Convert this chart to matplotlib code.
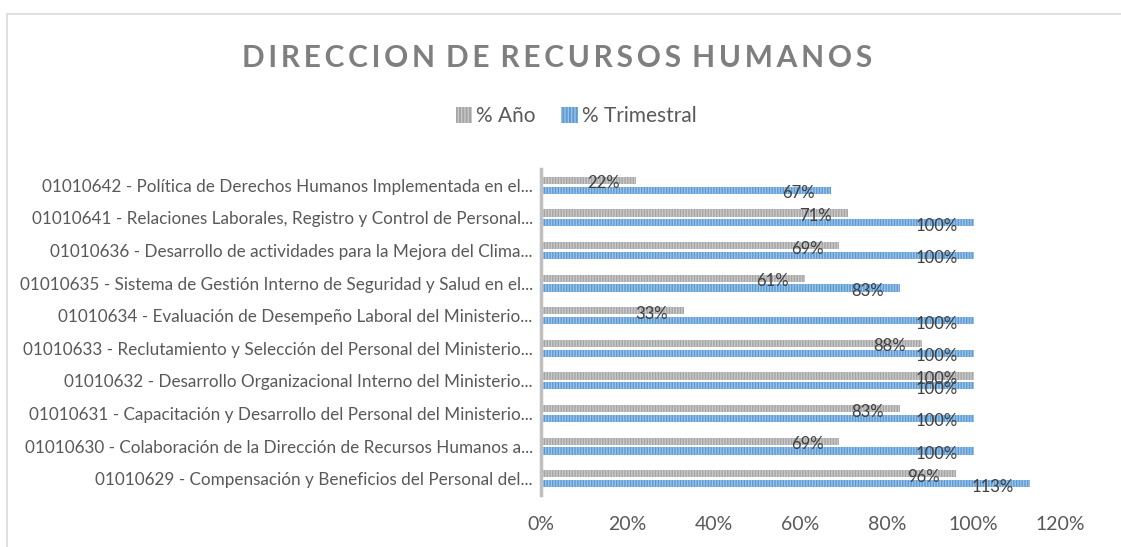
import numpy as np
import matplotlib.pyplot as plt
from matplotlib.patches import Patch, Rectangle
from matplotlib.ticker import FuncFormatter
import matplotlib.transforms as mtransforms

plt.rcParams['font.family'] = ['Lato', 'DejaVu Sans']
plt.rcParams['hatch.linewidth'] = 1.0

# ==========================================
# Data
# ==========================================
categories = [
    "01010642 - Política de Derechos Humanos Implementada en el...",
    "01010641 - Relaciones Laborales, Registro y Control de Personal...",
    "01010636 - Desarrollo de actividades para la Mejora del Clima...",
    "01010635 - Sistema de Gestión Interno de Seguridad y Salud en el...",
    "01010634 - Evaluación de Desempeño Laboral del Ministerio...",
    "01010633 - Reclutamiento y Selección del Personal del Ministerio...",
    "01010632 - Desarrollo Organizacional Interno del Ministerio...",
    "01010631 - Capacitación y Desarrollo del Personal del Ministerio...",
    "01010630 - Colaboración de la Dirección de Recursos Humanos a...",
    "01010629 - Compensación y Beneficios del Personal del...",
]
pct_anio = [0.22, 0.71, 0.69, 0.61, 0.33, 0.88, 1.00, 0.83, 0.69, 0.96]
pct_trimestral = [0.67, 1.00, 1.00, 0.83, 1.00, 1.00, 1.00, 1.00, 1.00, 1.13]
xticks = [0, 0.2, 0.4, 0.6, 0.8, 1.0, 1.2]

GRAY = "#a5a5a5"
GRAY_HATCH = "#c9c9c9"
BLUE = "#5b9bd5"
BLUE_HATCH = "#9cc3e6"
TEXT = "#595959"

# ==========================================
# Figure
# ==========================================
fig = plt.figure(figsize=(11.21, 5.47), dpi=100)
ax = fig.add_axes([541 / 1121, 1 - 495 / 547, 519 / 1121, 326 / 547])

y = np.arange(len(categories))
h = 0.22
off = 0.15
ax.barh(y - off, pct_anio, height=h, color=GRAY, edgecolor=GRAY_HATCH,
        linewidth=0, hatch="||||||")
ax.barh(y + off, pct_trimestral, height=h, color=BLUE, edgecolor=BLUE_HATCH,
        linewidth=0, hatch="||||||")

# data labels near bar ends
lab_off = mtransforms.offset_copy(ax.transData, fig=fig, x=-16, y=-3, units="dots")
for i in range(len(categories)):
    ax.text(pct_anio[i], y[i] - off, f"{pct_anio[i]:.0%}", transform=lab_off,
            ha="right", va="center", fontsize=12, color="#404040")
    ax.text(pct_trimestral[i], y[i] + off, f"{pct_trimestral[i]:.0%}", transform=lab_off,
            ha="right", va="center", fontsize=12, color="#404040")

ax.set_ylim(len(categories) - 0.5, -0.5)
ax.set_xlim(0, 1.2)
ax.set_yticks(y)
ax.set_yticklabels(categories, fontsize=12.3, color=TEXT)
ax.set_xticks(xticks)
ax.xaxis.set_major_formatter(FuncFormatter(lambda v, p: f"{v:.0%}"))
ax.tick_params(axis="x", labelsize=14, colors=TEXT, length=0, pad=15)
ax.tick_params(axis="y", length=0, pad=6)

for s in ["top", "right", "bottom"]:
    ax.spines[s].set_visible(False)
ax.spines["left"].set_color("#bfbfbf")
ax.spines["left"].set_linewidth(2.5)

# title with letter spacing
title = "DIRECCION DE RECURSOS HUMANOS"
spaced = "\u2009 ".join("\u2009".join(w) for w in title.split(" "))
fig.text(557 / 1121, 1 - 58 / 547, spaced, ha="center", va="center",
         fontsize=21.5, fontweight="bold", color="#7f7f7f")

# legend
handles = [
    Patch(facecolor=GRAY, edgecolor=GRAY_HATCH, linewidth=0, hatch="|||||", label="% Año"),
    Patch(facecolor=BLUE, edgecolor=BLUE_HATCH, linewidth=0, hatch="|||||", label="% Trimestral"),
]
fig.legend(handles=handles, loc="center", bbox_to_anchor=(576 / 1121, 1 - 116 / 547),
           ncol=2, frameon=False, fontsize=15, labelcolor=TEXT, handlelength=0.8,
           handleheight=0.8, handletextpad=0.2, columnspacing=1.2)

# chart border
fig.patches.append(Rectangle((7 / 1121, -0.1), 2, 1 - 14 / 547 + 0.1, transform=fig.transFigure,
                             fill=False, edgecolor="#d9d9d9", linewidth=1.2))

fig.savefig("out.png", dpi=100)
